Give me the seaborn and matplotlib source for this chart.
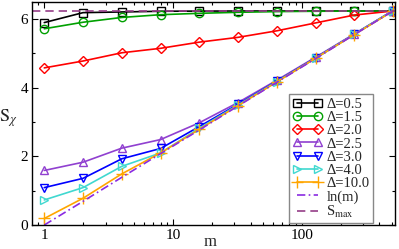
import matplotlib
matplotlib.use("Agg")
import matplotlib.pyplot as plt
import seaborn as sns
import numpy as np
from matplotlib.ticker import FixedLocator, FixedFormatter, MultipleLocator, LogLocator, NullFormatter

m = [1, 2, 4, 8, 16, 32, 64, 128, 256, 512]
d05 = [5.90, 6.19, 6.21, 6.23, 6.235, 6.237, 6.238, 6.238, 6.238, 6.238]
d15 = [5.72, 5.91, 6.05, 6.13, 6.17, 6.20, 6.22, 6.23, 6.235, 6.238]
d20 = [4.58, 4.78, 5.02, 5.15, 5.33, 5.47, 5.66, 5.89, 6.12, 6.238]
d25 = [1.59, 1.83, 2.24, 2.49, 2.98, 3.57, 4.22, 4.89, 5.57, 6.25]
d30 = [1.09, 1.36, 1.93, 2.23, 2.87, 3.52, 4.19, 4.87, 5.56, 6.25]
d40 = [0.73, 1.09, 1.71, 2.10, 2.82, 3.50, 4.18, 4.86, 5.56, 6.25]
d100 = [0.19, 0.78, 1.49, 2.10, 2.79, 3.48, 4.17, 4.86, 5.55, 6.24]
lnm = [0.0, 0.69, 1.39, 2.08, 2.77, 3.47, 4.16, 4.85, 5.55, 6.24]
smax = 6.238

labels = ["Δ=0.5", "Δ=1.5", "Δ=2.0", "Δ=2.5", "Δ=3.0", "Δ=4.0", "Δ=10.0"]
series = [d05, d15, d20, d25, d30, d40, d100]
colors = ["#000000", "#00a000", "#ff0000", "#9040d0", "#0000ff", "#40d8d0", "#ffa500"]
markers = ["s", "o", "D", "^", "v", ">", "+"]
msizes = [6, 6, 5, 6, 6, 6, 8]

sns.set_style("ticks")
plt.rcParams["font.family"] = ["Liberation Serif", "DejaVu Serif"]
plt.rcParams["mathtext.fontset"] = "stix"

fig = plt.figure(figsize=(3.99, 2.49), dpi=100)
ax = fig.add_axes([32.3 / 399, 24 / 249, (395 - 32.3) / 399, 223 / 249])

for vals, lab, c, mk, ms in zip(series, labels, colors, markers, msizes):
    sns.lineplot(x=m, y=vals, ax=ax, color=c, marker=mk, markersize=ms,
                 markerfacecolor="none", markeredgecolor=c, markeredgewidth=1.0,
                 linewidth=1.2, label=lab)

sns.lineplot(x=m, y=lnm, ax=ax, color="#8a2be2", linewidth=1.2, label="ln(m)",
             linestyle=(0, (5, 2, 1, 2)))
ax.axhline(smax, color="#953d88", linewidth=1.2, linestyle=(0, (5, 3)),
           label="S$_{\\mathrm{max}}$")

ax.set_xscale("log")
ax.set_xlim(0.807, 530)
ax.set_ylim(0, 6.5)
ax.xaxis.set_major_locator(FixedLocator([1, 10, 100]))
ax.xaxis.set_major_formatter(FixedFormatter(["1", "10", "100"]))
ax.xaxis.set_minor_locator(LogLocator(base=10, subs=np.arange(2, 10)))
ax.xaxis.set_minor_formatter(NullFormatter())
ax.yaxis.set_major_locator(MultipleLocator(2))
ax.yaxis.set_minor_locator(MultipleLocator(1))

ax.tick_params(which="both", direction="in", top=True, right=True,
               labelsize=11, colors="#000000", width=0.8)
ax.tick_params(which="major", length=4.3, pad=3)
ax.tick_params(which="minor", length=2.2)
for s in ax.spines.values():
    s.set_linewidth(1.0)
    s.set_color("black")

ax.set_xlabel("m", fontsize=12)
ax.xaxis.set_label_coords(0.49, -0.04)
ax.set_ylabel("$\\mathrm{S}_{\\chi}$", fontsize=13, rotation=0)
ax.yaxis.set_label_coords(-0.065, 0.43)

leg = ax.legend(loc="upper left", bbox_to_anchor=(0.708, 0.587), borderaxespad=0,
                numpoints=2, fontsize=10.5, labelspacing=0.0, handlelength=2.0,
                handletextpad=0.3, borderpad=0.25, fancybox=False, framealpha=1,
                edgecolor="#888888")
leg.get_frame().set_linewidth(1.0)

fig.savefig("out.png", dpi=100)
